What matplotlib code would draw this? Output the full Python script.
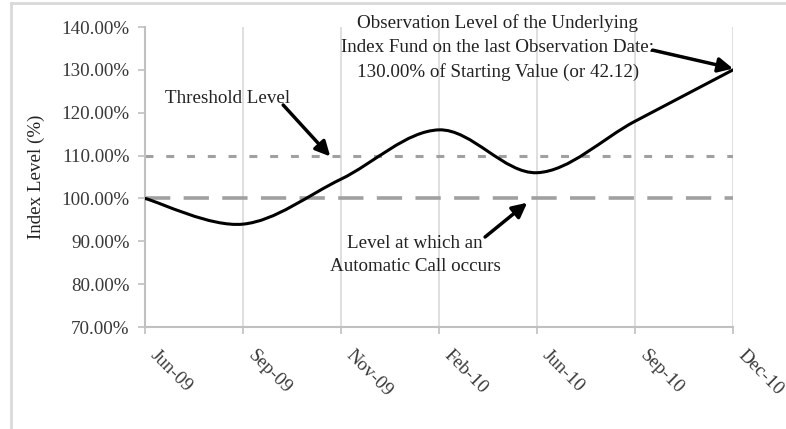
import numpy as np
import matplotlib
matplotlib.use("Agg")
import matplotlib.pyplot as plt
import matplotlib.transforms as mtransforms
from matplotlib.path import Path
from matplotlib.patches import PathPatch
from matplotlib.lines import Line2D

plt.rcParams['font.family'] = ['Liberation Serif', 'DejaVu Serif']

dates = ['Jun-09', 'Sep-09', 'Nov-09', 'Feb-10', 'Jun-10', 'Sep-10', 'Dec-10']
index_level = [100.0, 94.0, 104.5, 116.0, 106.0, 118.0, 130.0]
threshold = [110.0] * len(dates)
call_level = [100.0] * len(dates)
yticks = [70, 80, 90, 100, 110, 120, 130, 140]

W, H = 786, 429
fig = plt.figure(figsize=(W / 100, H / 100), dpi=100)
ax = fig.add_axes([145 / W, (H - 327) / H, (733 - 145) / W, 300 / H])

x = np.arange(len(dates))

# reference lines
ax.plot(x, call_level, color='#a0a0a0', lw=2.6, dashes=(7, 3.7), zorder=2)
ax.plot(x, threshold, color='#a0a0a0', lw=2.2, dashes=(2.6, 4.2), zorder=2)

# smoothed line (Excel style bezier through the points)
pts = np.column_stack([x, index_level]).astype(float)
ext = np.vstack([pts[0], pts, pts[-1]])
verts = [tuple(pts[0])]
codes = [Path.MOVETO]
for i in range(len(pts) - 1):
    p0, p1, p2, p3 = ext[i], ext[i + 1], ext[i + 2], ext[i + 3]
    c1 = p1 + (p2 - p0) / 6
    c2 = p2 - (p3 - p1) / 6
    verts += [tuple(c1), tuple(c2), tuple(p2)]
    codes += [Path.CURVE4] * 3
ax.add_patch(PathPatch(Path(verts, codes), facecolor='none', edgecolor='black',
                       lw=2.2, zorder=3, capstyle='round', joinstyle='round'))

ax.set_xlim(0, 6)
ax.set_ylim(70, 140)
ax.set_yticks(yticks)
ax.set_yticklabels([f'{v:.2f}%' for v in yticks])
ax.set_xticks(x)
ax.set_xticklabels(dates, rotation=-45, ha='left', va='top', rotation_mode='anchor')

ax.grid(axis='x', color='#d9d9d9', lw=1.2)
ax.set_axisbelow(True)
for s in ['top', 'right']:
    ax.spines[s].set_visible(False)
for s in ['left', 'bottom']:
    ax.spines[s].set_color('#c0c0c0')
    ax.spines[s].set_linewidth(1.5)
ax.tick_params(axis='both', colors='#c0c0c0', length=5, width=1.2,
               labelsize=13.7, labelcolor='#383838')
ax.tick_params(axis='x', pad=8)
ax.tick_params(axis='y', pad=6)

# Excel puts the slanted labels a little right of each tick
shift = mtransforms.ScaledTranslation(14 / 100, -2 / 100, fig.dpi_scale_trans)
for lbl in ax.get_xticklabels():
    lbl.set_transform(lbl.get_transform() + shift)

ax.set_ylabel('Index Level (%)', fontsize=13.7, color='#222222')
ax.yaxis.set_label_coords(-0.17, 0.5)

arrow = dict(arrowstyle='-|>', color='black', lw=2.5, mutation_scale=22,
             shrinkA=0, shrinkB=0)
txt = dict(fontsize=13.7, color='#222222', ha='center', va='center')

ax.text(0.847, 123.4, 'Threshold Level', **txt)
ax.annotate('', xy=(1.89, 109.8), xytext=(1.41, 121.8), arrowprops=arrow)

ax.text(2.755, 86.8, 'Level at which an\nAutomatic Call occurs', linespacing=1.45, **txt)
ax.annotate('', xy=(3.90, 99.0), xytext=(3.47, 91.0), arrowprops=arrow)

ax.text(3.60, 135.2, 'Observation Level of the Underlying\n'
        'Index Fund on the last Observation Date:\n'
        '130.00% of Starting Value (or 42.12)', linespacing=1.52, clip_on=False, **txt)
ax.annotate('', xy=(6.0, 130.3), xytext=(5.18, 134.6), arrowprops=arrow,
            annotation_clip=False)

# outer frame of the chart object
fig.add_artist(Line2D([11 / W, 11 / W], [0, (H - 3) / H], color='#d9d9d9', lw=2))
fig.add_artist(Line2D([11 / W, 1], [(H - 3) / H, (H - 3) / H], color='#d9d9d9', lw=2))

fig.savefig('out.png', dpi=100)
